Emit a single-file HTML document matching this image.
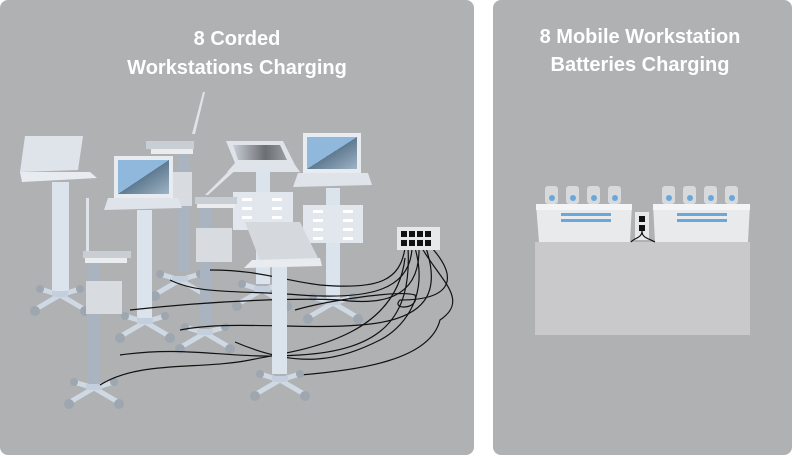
<!DOCTYPE html>
<html><head><meta charset="utf-8"><style>
html,body{margin:0;padding:0;background:#fff;width:792px;height:455px;overflow:hidden}
</style></head><body>
<svg width="792" height="455" viewBox="0 0 792 455" xmlns="http://www.w3.org/2000/svg" font-family="Liberation Sans, sans-serif">
<defs>
<linearGradient id="scr" x1="0" y1="0" x2="1" y2="1"><stop offset="0.5" stop-color="#8fb8dc"/><stop offset="0.5" stop-color="#5f7a90"/><stop offset="1" stop-color="#9fb4c6"/></linearGradient>
<linearGradient id="scr2" x1="0" y1="0" x2="1" y2="0"><stop offset="0" stop-color="#c8cdd4"/><stop offset="0.6" stop-color="#6b6f74"/><stop offset="1" stop-color="#9a9ea3"/></linearGradient>
<g id="wh"><path d="M-24,14 L0,0 L24,14 M-20,-6 L0,0 L20,-6" stroke="#cfd9e4" stroke-width="5" fill="none"/><circle cx="-25" cy="16" r="5" fill="#9ea6b0"/><circle cx="25" cy="16" r="5" fill="#9ea6b0"/><circle cx="-20" cy="-6" r="4" fill="#9ea6b0"/><circle cx="20" cy="-6" r="4" fill="#9ea6b0"/><rect x="-8" y="-4" width="16" height="6" fill="#c3cfdc"/></g>
</defs>
<rect x="0" y="0" width="474" height="455" rx="8" fill="#b0b1b3"/>
<rect x="493" y="0" width="299" height="455" rx="8" fill="#b0b1b3"/>
<g fill="#fff" font-weight="bold" font-size="20" text-anchor="middle">
<text x="237" y="45">8 Corded</text><text x="237" y="74">Workstations Charging</text>
<text x="640" y="43">8 Mobile Workstation</text><text x="640" y="71">Batteries Charging</text>
</g>
<!-- back cart 3 -->
<rect x="178" y="150" width="12" height="122" fill="#a9b4c0"/>
<rect x="172" y="172" width="20" height="34" fill="#d8dce0"/>
<rect x="146" y="141" width="48" height="8" fill="#c9ced4"/><rect x="151" y="149" width="42" height="5" fill="#eaecee"/>
<path d="M192,134 L203,92 L205,92 L195,134Z" fill="#dfe4ea"/>
<use href="#wh" x="180" y="280"/>
<!-- cart 5 -->
<rect x="256" y="172" width="14" height="112" fill="#dbe3ec"/>
<rect x="233" y="192" width="60" height="38" fill="#e2e7ee"/>
<g fill="#fff"><rect x="242" y="198" width="10" height="3"/><rect x="272" y="198" width="10" height="3"/><rect x="242" y="207" width="10" height="3"/><rect x="272" y="207" width="10" height="3"/><rect x="242" y="216" width="10" height="3"/><rect x="272" y="216" width="10" height="3"/></g>
<path d="M226,141 L283,141 L295,165 L300,172 L227,172 L235,163Z" fill="#dfe4ea"/><path d="M233,145 L280,145 L287,160 L238,160Z" fill="url(#scr2)"/>
<path d="M235,165 L205,195 L208,195 L238,168Z" fill="#dfe4ea"/>
<use href="#wh" x="262" y="290"/>
<!-- cart 6 -->
<rect x="326" y="188" width="14" height="115" fill="#dbe3ec"/>
<rect x="303" y="205" width="60" height="38" fill="#e2e7ee"/>
<g fill="#fff"><rect x="313" y="210" width="10" height="3"/><rect x="343" y="210" width="10" height="3"/><rect x="313" y="219" width="10" height="3"/><rect x="343" y="219" width="10" height="3"/><rect x="313" y="228" width="10" height="3"/><rect x="343" y="228" width="10" height="3"/><rect x="313" y="237" width="10" height="3"/><rect x="343" y="237" width="10" height="3"/></g>
<rect x="303" y="133" width="58" height="40" fill="#e8ecf0"/><rect x="307" y="137" width="50" height="32" fill="url(#scr)"/>
<path d="M298,173 L368,173 L372,185 L293,187Z" fill="#dfe4ea"/>
<use href="#wh" x="333" y="303"/>
<!-- cart 1 -->
<rect x="52" y="182" width="17" height="110" fill="#dbe3ec"/>
<path d="M25,136 L83,136 L78,170 L20,172Z" fill="#dfe4ea"/><path d="M20,172 L90,172 L97,178 L22,182Z" fill="#e8ecf0"/>
<use href="#wh" x="60" y="295"/>
<!-- cart 2 -->
<rect x="137" y="210" width="15" height="112" fill="#dbe3ec"/>
<rect x="114" y="156" width="59" height="42" fill="#e8ecf0"/><rect x="118" y="160" width="51" height="34" fill="url(#scr)"/>
<path d="M108,198 L178,198 L182,208 L104,210Z" fill="#dfe4ea"/>
<use href="#wh" x="145" y="322"/>
<!-- cart 7 -->
<rect x="200" y="205" width="11" height="120" fill="#a9b4c0"/>
<rect x="195" y="197" width="42" height="7" fill="#c9ced4"/><rect x="197" y="204" width="38" height="4" fill="#eaecee"/>
<rect x="196" y="228" width="36" height="34" fill="#d8dce0"/>
<use href="#wh" x="205" y="333"/>
<!-- cart 4 -->
<rect x="87" y="258" width="12" height="130" fill="#a9b4c0"/>
<rect x="86" y="198" width="3" height="54" fill="#dfe4ea"/>
<rect x="83" y="251" width="48" height="7" fill="#c9ced4"/><rect x="85" y="258" width="42" height="5" fill="#eaecee"/>
<rect x="86" y="281" width="36" height="33" fill="#d8dce0"/>
<use href="#wh" x="94" y="388"/>
<!-- cables -->
<g stroke="#111" stroke-width="1.2" fill="none">
<path d="M405,248 C400,280 380,290 320,285 C280,280 260,270 210,270"/>
<path d="M412,248 C410,290 370,300 300,295 C240,290 200,295 170,280"/>
<path d="M419,248 C420,300 380,305 340,300 C300,298 220,300 130,310"/>
<path d="M426,248 C440,290 430,320 360,325 C300,330 230,320 180,330"/>
<path d="M408,248 C412,320 380,350 300,355 C230,360 190,345 120,355"/>
<path d="M415,248 C430,300 400,330 380,340 C340,360 300,370 235,342"/>
<path d="M422,248 C440,280 470,300 440,320 C430,360 360,370 300,375"/>
<path d="M432,248 C460,280 450,300 400,300 C390,310 420,310 415,295 C400,290 330,300 295,310"/>
<path d="M405,258 C395,340 300,350 250,360 C200,370 140,360 100,385"/>
</g>
<!-- power strip -->
<rect x="397" y="227" width="43" height="23" fill="#e6e8ea"/>
<g fill="#111"><rect x="401" y="231" width="6" height="6"/><rect x="409" y="231" width="6" height="6"/><rect x="417" y="231" width="6" height="6"/><rect x="425" y="231" width="6" height="6"/><rect x="401" y="240" width="6" height="6"/><rect x="409" y="240" width="6" height="6"/><rect x="417" y="240" width="6" height="6"/><rect x="425" y="240" width="6" height="6"/></g>
<!-- cart 8 front -->
<rect x="272" y="262" width="15" height="112" fill="#dbe3ec"/>
<path d="M245,222 L300,222 L320,262 L262,266Z" fill="#d5d9de"/><path d="M252,260 L320,258 L322,266 L244,268Z" fill="#e8ecf0"/>
<use href="#wh" x="280" y="380"/>
<!-- right panel -->
<rect x="535" y="242" width="215" height="93" fill="#c9c9cb"/>
<g fill="#d7d9db"><rect x="545" y="186" width="13" height="18" rx="3"/><rect x="566" y="186" width="13" height="18" rx="3"/><rect x="587" y="186" width="13" height="18" rx="3"/><rect x="608" y="186" width="13" height="18" rx="3"/>
<rect x="662" y="186" width="13" height="18" rx="3"/><rect x="683" y="186" width="13" height="18" rx="3"/><rect x="704" y="186" width="13" height="18" rx="3"/><rect x="725" y="186" width="13" height="18" rx="3"/></g>
<g fill="#6aa8dc"><circle cx="552" cy="198" r="3"/><circle cx="573" cy="198" r="3"/><circle cx="594" cy="198" r="3"/><circle cx="615" cy="198" r="3"/><circle cx="669" cy="198" r="3"/><circle cx="690" cy="198" r="3"/><circle cx="711" cy="198" r="3"/><circle cx="732" cy="198" r="3"/></g>
<path d="M536,204 L632,204 L630,242 L539,242Z" fill="#e8eaec"/><rect x="536" y="204" width="96" height="6" fill="#f3f4f5"/>
<path d="M653,204 L750,204 L748,242 L655,242Z" fill="#e8eaec"/><rect x="653" y="204" width="97" height="6" fill="#f3f4f5"/>
<g fill="#6aa8dc"><rect x="561" y="213" width="50" height="3"/><rect x="561" y="219" width="50" height="3"/><rect x="677" y="213" width="50" height="3"/><rect x="677" y="219" width="50" height="3"/></g>
<rect x="635" y="212" width="14" height="28" fill="#e6e8ea"/><rect x="639" y="216" width="6" height="6" fill="#111"/><rect x="639" y="225" width="6" height="6" fill="#111"/>
<path d="M642,231 C642,238 634,238 631,242 M642,231 C642,238 648,238 655,242" stroke="#111" stroke-width="1.2" fill="none"/>
</svg>
</body></html>
